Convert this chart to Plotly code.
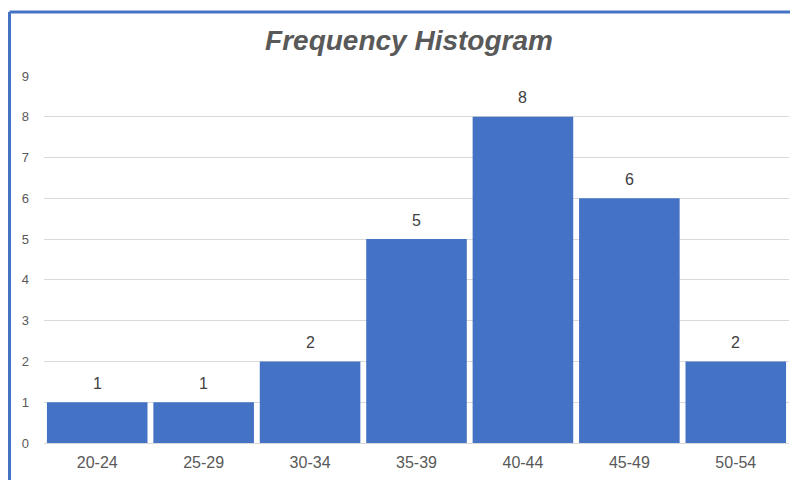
import plotly.graph_objects as go

categories = ["20-24", "25-29", "30-34", "35-39", "40-44", "45-49", "50-54"]
frequencies = [1, 1, 2, 5, 8, 6, 2]
y_ticks = [0, 1, 2, 3, 4, 5, 6, 7, 8, 9]
title_text = "Frequency Histogram"

# page body has an 8px margin; work in page coordinates then shift
OFF = 8
W, H = 798 - OFF, 480 - OFF
L, T = 44 - OFF, 76 - OFF
R = W - (789 - OFF)
B = H - (446 - OFF)
pw = W - L - R
ph = H - T - B

def px_x(x):
    return (x - OFF - L) / pw

def px_y(y):
    return (H - B - (y - OFF)) / ph

fig = go.Figure()
fig.add_trace(go.Bar(
    x=categories, y=frequencies,
    marker=dict(color="#4472C4", line=dict(width=0)),
    hoverinfo="x+y",
))

for c, v in zip(categories, frequencies):
    fig.add_annotation(x=c, y=v, text=str(v), showarrow=False, yshift=19,
                       xref="x", yref="y",
                       font=dict(family="Liberation Sans, Arial", size=16, color="#404040"))

border = "#4472C4"
for x0, y0, x1, y1 in [(9.5, 11.5, 800, 11.5), (9.5, 11.5, 9.5, 500)]:
    fig.add_shape(type="line", xref="paper", yref="paper",
                  x0=px_x(x0), y0=px_y(y0), x1=px_x(x1), y1=px_y(y1),
                  line=dict(color=border, width=3))

fig.update_layout(
    width=W, height=H,
    margin=dict(l=L, r=R, t=T, b=B),
    paper_bgcolor="white", plot_bgcolor="white",
    bargap=0.055,
    showlegend=False,
    title=dict(text="<b><i>" + title_text + "</i></b>", x=(409 - OFF) / W, xanchor="center",
               y=1 - (40 - OFF) / H, yanchor="middle",
               font=dict(family="Liberation Sans, Arial", size=28, color="#595959")),
    xaxis=dict(showgrid=False, showline=True, linecolor="#d9d9d9", linewidth=1,
               ticks="", tickfont=dict(family="Liberation Sans, Arial", size=16, color="#595959"),
               ticklabelstandoff=5),
    yaxis=dict(range=[0, 9], tickvals=y_ticks, showgrid=True, gridcolor="#d9d9d9", gridwidth=1,
               zeroline=False, showline=False, ticks="",
               tickfont=dict(family="Liberation Sans, Arial", size=13, color="#595959"),
               ticklabelstandoff=14),
)

fig.write_html("out.html")
